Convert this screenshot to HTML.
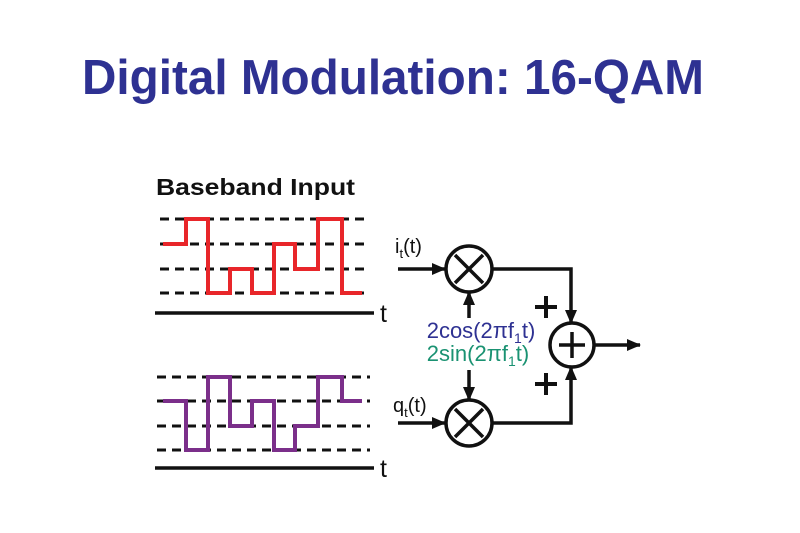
<!DOCTYPE html>
<html><head><meta charset="utf-8"><style>
html,body{margin:0;padding:0;background:#fff;}
svg{display:block;}
text{font-family:"Liberation Sans",Arial,sans-serif;}
</style></head><body>
<svg width="800" height="533" viewBox="0 0 800 533" xmlns="http://www.w3.org/2000/svg">
<defs>
<marker id="ah" markerWidth="14" markerHeight="14" refX="13" refY="7" orient="auto" markerUnits="userSpaceOnUse">
<path d="M0,1 L14,7 L0,13 z" fill="#111"/></marker>
</defs>
<rect width="800" height="533" fill="#fff"/>
<text x="82" y="94" font-size="49" font-weight="bold" fill="#2e3192" textLength="622" lengthAdjust="spacingAndGlyphs">Digital Modulation: 16-QAM</text>
<text x="156" y="195" font-size="23" font-weight="bold" fill="#111" textLength="199" lengthAdjust="spacingAndGlyphs">Baseband Input</text>
<g stroke="#111" stroke-width="3" stroke-dasharray="9,6" fill="none">
<line x1="160" y1="219" x2="370" y2="219"/><line x1="160" y1="244" x2="370" y2="244"/>
<line x1="160" y1="269" x2="370" y2="269"/><line x1="160" y1="293" x2="370" y2="293"/>
<line x1="157" y1="377" x2="370" y2="377"/><line x1="157" y1="401" x2="370" y2="401"/>
<line x1="157" y1="426" x2="370" y2="426"/><line x1="157" y1="450" x2="370" y2="450"/>
</g>
<g stroke="#111" stroke-width="3.5">
<line x1="155" y1="313" x2="374" y2="313"/><line x1="155" y1="468" x2="374" y2="468"/>
</g>
<polyline fill="none" stroke="#e8262a" stroke-width="4" points="163,244 186,244 186,219 208,219 208,293 230,293 230,269 252,269 252,293 274,293 274,244 295,244 295,269 318,269 318,219 342,219 342,293 362,293"/>
<polyline fill="none" stroke="#7b2f8a" stroke-width="4" points="163,401 186,401 186,450 208,450 208,377 230,377 230,426 252,426 252,401 274,401 274,450 295,450 295,426 318,426 318,377 342,377 342,401 362,401"/>
<text x="380" y="322" font-size="25" fill="#111">t</text>
<text x="380" y="477" font-size="25" fill="#111">t</text>
<text x="395" y="253" font-size="20" fill="#111">i<tspan font-size="13" dy="5">t</tspan><tspan dy="-5">(t)</tspan></text>
<text x="393" y="412" font-size="20" fill="#111">q<tspan font-size="13" dy="5">t</tspan><tspan dy="-5">(t)</tspan></text>
<g stroke="#111" stroke-width="3.5" fill="none">
<line x1="398" y1="269" x2="445" y2="269" marker-end="url(#ah)"/>
<line x1="398" y1="423" x2="445" y2="423" marker-end="url(#ah)"/>
<circle cx="469" cy="269" r="23"/><circle cx="469" cy="423" r="23"/><circle cx="572" cy="345" r="22"/>
<line x1="455" y1="255" x2="483" y2="283"/><line x1="483" y1="255" x2="455" y2="283"/>
<line x1="455" y1="409" x2="483" y2="437"/><line x1="483" y1="409" x2="455" y2="437"/>
<line x1="559" y1="345" x2="585" y2="345"/><line x1="572" y1="332" x2="572" y2="358"/>
<polyline points="492,269 571,269 571,323" marker-end="url(#ah)"/>
<polyline points="492,423 571,423 571,367" marker-end="url(#ah)"/>
<line x1="594" y1="345" x2="640" y2="345" marker-end="url(#ah)"/>
<line x1="469" y1="318" x2="469" y2="292" marker-end="url(#ah)"/>
<line x1="469" y1="370" x2="469" y2="400" marker-end="url(#ah)"/>
</g>
<g stroke="#111" stroke-width="4">
<line x1="535" y1="307" x2="557" y2="307"/><line x1="546" y1="296" x2="546" y2="318"/>
<line x1="535" y1="384" x2="557" y2="384"/><line x1="546" y1="373" x2="546" y2="395"/>
</g>
<text x="481" y="338" font-size="22" fill="#2e3192" text-anchor="middle">2cos(2πf<tspan font-size="14" dy="5">1</tspan><tspan dy="-5">t)</tspan></text>
<text x="478" y="361" font-size="22" fill="#1a9272" text-anchor="middle">2sin(2πf<tspan font-size="14" dy="5">1</tspan><tspan dy="-5">t)</tspan></text>
</svg>
</body></html>
